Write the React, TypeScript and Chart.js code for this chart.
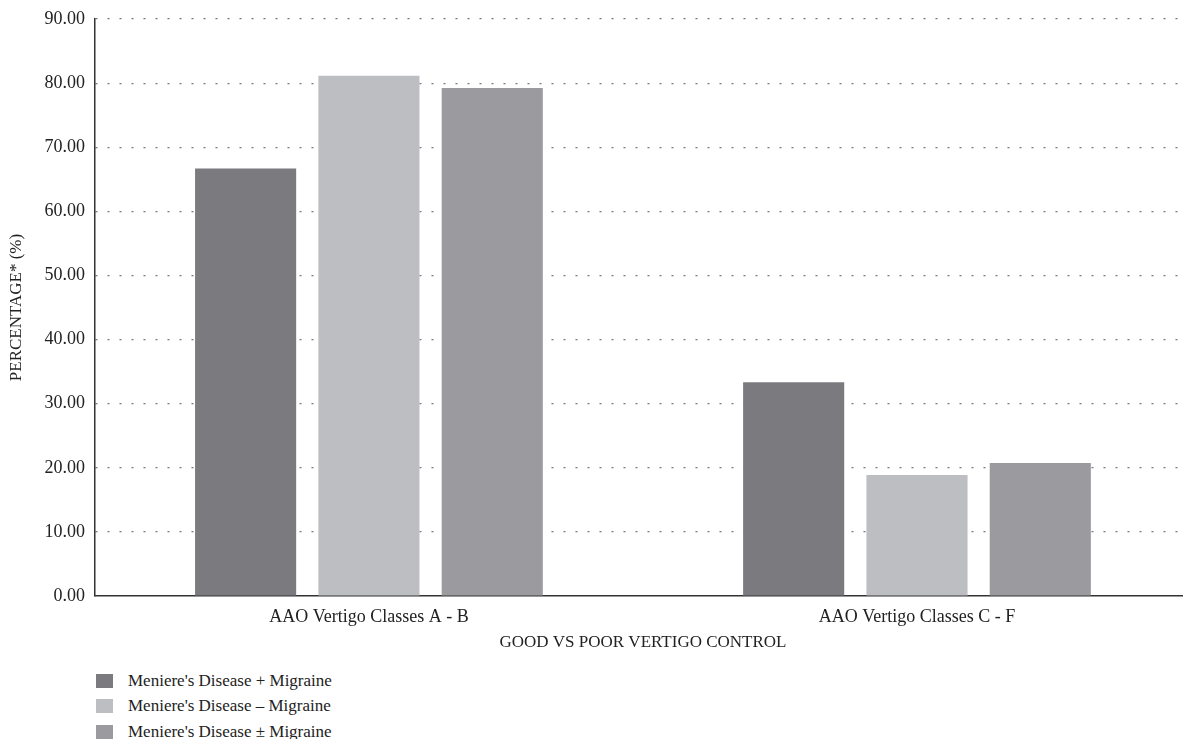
import React, { useEffect, useRef } from "react";
import { Chart, registerables } from "chart.js";

Chart.register(...registerables);

const categories = ["AAO Vertigo Classes A - B", "AAO Vertigo Classes C - F"];
const seriesNames = [
  "Meniere's Disease + Migraine",
  "Meniere's Disease \u2013 Migraine",
  "Meniere's Disease \u00b1 Migraine",
];
const seriesA = [66.67, 33.33];
const withoutMigraine = [81.13, 18.87];
const plusMinus = [79.25, 20.75];
const seriesColors = ["#7b7b7f", "#bdbec2", "#9b9b9f"];
const yTitle = "PERCENTAGE* (%)";
const xTitle = "GOOD VS POOR VERTIGO CONTROL";

const FONT = "'Liberation Serif', 'DejaVu Serif', serif";

export default function App() {
  const ref = useRef<HTMLCanvasElement | null>(null);
  useEffect(() => {
    if (!ref.current) return;
    const seriesData = [seriesA, withoutMigraine, plusMinus];
    const chart = new Chart(ref.current, {
      type: "bar",
      data: {
        labels: categories,
        datasets: seriesNames.map((n, i) => ({
          label: n,
          data: seriesData[i],
          backgroundColor: seriesColors[i],
          borderWidth: 0,
          categoryPercentage: 0.675,
          barPercentage: 0.82,
        })),
      },
      options: {
        animation: false,
        responsive: false,
        maintainAspectRatio: false,
        layout: { padding: { top: 0, right: 0, left: 6, bottom: 0 } },
        plugins: { legend: { display: false }, tooltip: { enabled: false } },
        scales: {
          y: {
            min: 0,
            max: 90,
            ticks: {
              stepSize: 10,
              color: "#222",
              font: { family: FONT, size: 18, lineHeight: 1 },
              padding: 10,
              callback: (v: any) => Number(v).toFixed(2),
            },
            grid: {
              color: (ctx: any) => (ctx.tick && ctx.tick.value === 0 ? "rgba(0,0,0,0)" : "#777"),
              lineWidth: 1.2,
              drawTicks: false,
            },
            border: { display: true, color: "#333", width: 1.5, dash: [2, 10] } as any,
            title: {
              display: true,
              text: yTitle,
              color: "#222",
              font: { family: FONT, size: 17 },
              padding: { top: 0, bottom: 8 },
            },
          },
          x: {
            ticks: { color: "#222", font: { family: FONT, size: 18, lineHeight: 1 }, padding: 12 },
            grid: { display: false, drawTicks: false },
            border: { display: true, color: "#333", width: 1.5 },
            title: {
              display: true,
              text: xTitle,
              color: "#222",
              font: { family: FONT, size: 17, lineHeight: 1 },
              padding: { top: -4, bottom: 0 },
            },
          },
        },
      },
    });
    return () => chart.destroy();
  }, []);

  return (
    <div style={{ margin: -8, width: 1191, height: 747, position: "relative", background: "#fff" }}>
      <canvas ref={ref} width={1191} height={651} style={{ display: "block" }} />
      <div style={{ position: "absolute", left: 96, top: 668, fontFamily: FONT, fontSize: 17, color: "#222" }}>
        {seriesNames.map((n, i) => (
          <div key={n} style={{ display: "flex", alignItems: "center", height: 25.5 }}>
            <span style={{ display: "inline-block", width: 17, height: 14, background: seriesColors[i], marginRight: 15 }} />
            <span>{n}</span>
          </div>
        ))}
      </div>
    </div>
  );
}
